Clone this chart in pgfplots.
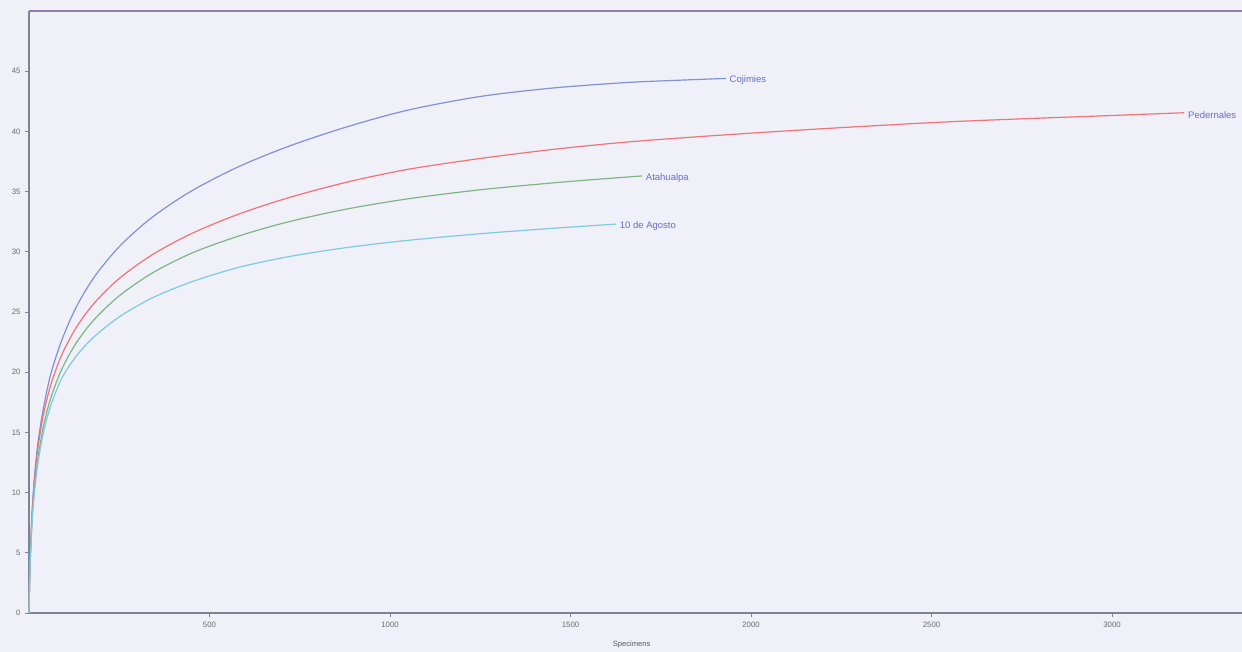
\documentclass[border=0pt]{standalone}
\usepackage{pgfplots}
\pgfplotsset{compat=1.18}
\usepackage{fontspec}
\setmainfont{Liberation Sans}
\definecolor{bg}{RGB}{240,240,248}
\definecolor{cblue}{RGB}{128,145,214}
\definecolor{cred}{RGB}{240,115,120}
\definecolor{cgreen}{RGB}{125,182,132}
\definecolor{ccyan}{RGB}{125,202,225}
\definecolor{labcol}{RGB}{100,110,205}
\definecolor{axcol}{RGB}{130,130,148}
\definecolor{topcol}{RGB}{145,125,165}
\begin{document}
\begin{tikzpicture}
\path[fill=bg, use as bounding box] (-29pt,-39pt) rectangle (1213pt,613pt);
\begin{axis}[
  at={(0,0)}, anchor=south west, scale only axis,
  width=1223.8pt, height=602pt,
  xmin=0, xmax=3390, ymin=0, ymax=50,
  xtick={500,1000,1500,2000,2500,3000},
  ytick={0,5,10,15,20,25,30,35,40,45},
  axis line style={draw=axcol, line width=1.3pt},
  tick style={draw=axcol, line width=0.8pt},
  tick align=outside, major tick length=4pt,
  axis x line*=bottom, axis y line*=left,
  ticklabel style={font=\fontsize{7.8}{9}\selectfont, text=black!58},
  /pgf/number format/assume math mode=true,
  /pgf/number format/set thousands separator={},
  xticklabel style={yshift=-2pt},
  yticklabel style={xshift=-1pt},
  xlabel={Specimens},
  xlabel style={at={(axis description cs:0.4924,0)}, anchor=center, yshift=-32pt, font=\fontsize{7.6}{9}\selectfont, text=black!65},
  clip=false,
]
\draw[draw=topcol, line width=1.3pt] (rel axis cs:0,1) -- (rel axis cs:1,1);
% Cojimies
\addplot[cblue, line width=1.2pt, smooth] coordinates {
(0,0) (1,1.7) (3,4.2) (6,6.8) (10,9.2) (16,11.6) (25,14.2) (40,17.0) (60,19.8) (90,22.6) (130,25.36) (180,27.87) (250,30.43) (340,32.84) (450,35.05) (580,37.06) (720,38.77) (880,40.37) (1050,41.77) (1250,42.9) (1450,43.6) (1650,44.05) (1800,44.25) (1930,44.4)
} node[pos=1, anchor=west, yshift=-2pt, font=\fontsize{9.5}{11}\selectfont, text=labcol] {Cojimies};
% Pedernales
\addplot[cred, line width=1.2pt, smooth] coordinates {
(0,0) (1,1.65) (3,4.1) (6,6.6) (10,8.9) (16,11.3) (25,13.75) (40,16.48) (60,18.91) (90,21.39) (130,23.67) (180,25.71) (250,27.78) (340,29.73) (450,31.51) (580,33.12) (720,34.5) (880,35.78) (1050,36.85) (1250,37.75) (1450,38.5) (1650,39.1) (1850,39.55) (2050,39.95) (2300,40.4) (2550,40.8) (2800,41.1) (3000,41.32) (3200,41.55)
} node[pos=1, anchor=west, yshift=-2pt, font=\fontsize{9.5}{11}\selectfont, text=labcol] {Pedernales};
% Atahualpa
\addplot[cgreen, line width=1.2pt, smooth] coordinates {
(0,0) (1,1.6) (3,3.9) (6,6.2) (10,8.4) (16,10.6) (25,12.9) (40,15.5) (60,17.82) (90,20.2) (130,22.39) (180,24.35) (250,26.34) (340,28.21) (450,29.88) (580,31.3) (720,32.5) (880,33.55) (1050,34.4) (1250,35.15) (1450,35.72) (1600,36.08) (1698,36.3)
} node[pos=1, anchor=west, yshift=-2pt, font=\fontsize{9.5}{11}\selectfont, text=labcol] {Atahualpa};
% 10 de Agosto
\addplot[ccyan, line width=1.2pt, smooth] coordinates {
(0,0) (1,1.6) (3,3.8) (6,6.1) (10,8.2) (16,10.3) (25,12.5) (40,15.0) (60,17.2) (90,19.45) (130,21.3) (180,22.93) (250,24.59) (340,26.15) (450,27.5) (580,28.7) (720,29.6) (880,30.35) (1050,30.95) (1250,31.5) (1450,31.95) (1626,32.3)
} node[pos=1, anchor=west, yshift=-2pt, font=\fontsize{9.5}{11}\selectfont, text=labcol] {10 de Agosto};
\end{axis}
\end{tikzpicture}
\end{document}
